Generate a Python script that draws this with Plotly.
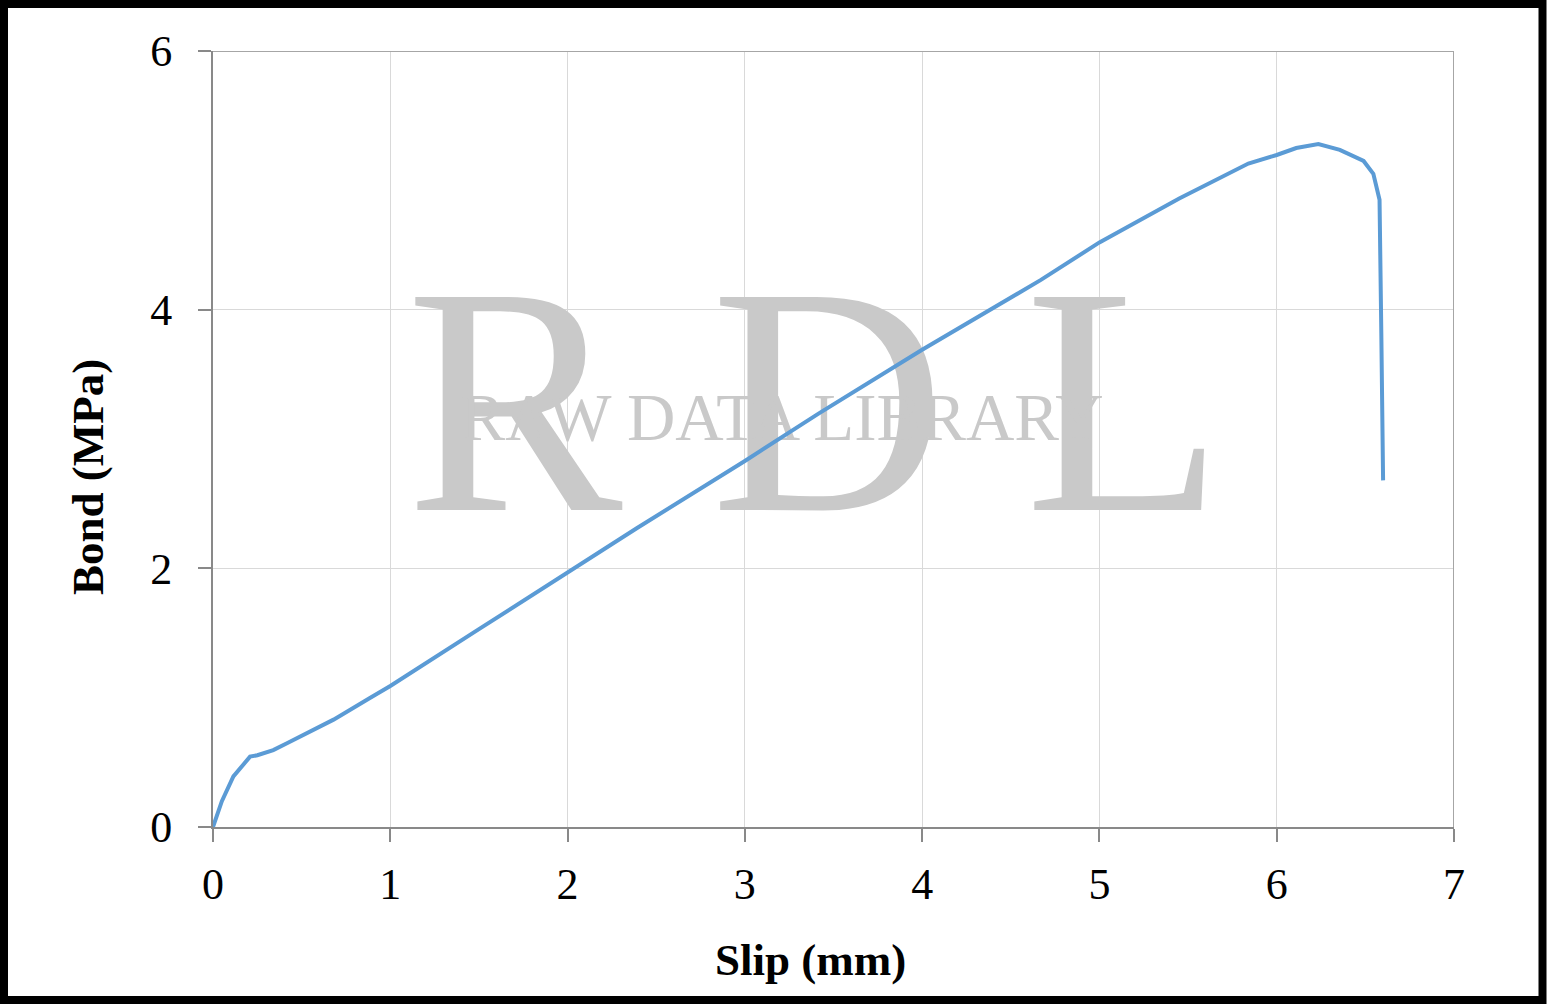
import plotly.graph_objects as go

slip = [0, 0.05, 0.115, 0.16, 0.209, 0.25, 0.284, 0.34, 0.42, 0.49, 0.6, 0.68, 0.885, 1.0,
        1.5, 2.0, 2.39, 3.0, 3.42, 4.0, 4.67, 5.0, 5.45, 5.84, 6.0, 6.11, 6.235,
        6.356, 6.49, 6.545, 6.58, 6.59, 6.6]
bond = [0, 0.2, 0.391, 0.47, 0.544, 0.555, 0.57, 0.595, 0.65, 0.70, 0.78, 0.83, 0.997, 1.09,
        1.53, 1.97, 2.31, 2.83, 3.20, 3.69, 4.23, 4.52, 4.86, 5.13, 5.196, 5.25, 5.28,
        5.235, 5.15, 5.05, 4.85, 3.82, 2.68]

x_ticks = [0, 1, 2, 3, 4, 5, 6, 7]
y_ticks = [0, 2, 4, 6]

W, H = 1547, 1005
L, R, T, B = 213, 93, 51, 178
pw, ph = W - L - R, H - T - B

def px(xp):
    return (xp - L) / pw

def py(yp):
    return (H - B - yp) / ph

SERIF = "Liberation Serif, Times New Roman, serif"
WM = "#c9c9c9"

fig = go.Figure()

# watermark (below the data line)
fig.add_trace(go.Scatter(
    x=[1.70, 3.47, 5.14], y=[3.08, 3.08, 3.08], mode="text",
    text=["R", "D", "L"], textposition="middle center",
    textfont=dict(family=SERIF, size=325, color=WM),
    hoverinfo="skip", showlegend=False))
fig.add_trace(go.Scatter(
    x=[3.21], y=[3.12], mode="text", text=["RAW DATA LIBRARY"],
    textposition="middle center",
    textfont=dict(family=SERIF, size=67, color=WM),
    hoverinfo="skip", showlegend=False))

fig.add_trace(go.Scatter(
    x=slip, y=bond, mode="lines",
    line=dict(color="#5b9bd5", width=4),
    showlegend=False))

axis_common = dict(
    showgrid=True, gridcolor="#d9d9d9", gridwidth=1,
    showline=True, linecolor="#898989", linewidth=2,
    ticks="outside", ticklen=13, tickwidth=2, tickcolor="#898989",
    tickfont=dict(family=SERIF, size=44, color="black"),
    zeroline=False,
)

fig.update_xaxes(range=[0, 7], tickvals=x_ticks, ticklabelstandoff=4, **axis_common)
fig.update_yaxes(range=[0, 6], tickvals=y_ticks, ticklabelstandoff=17, **axis_common)

fig.update_layout(
    width=W, height=H,
    margin=dict(l=L, r=R, t=T, b=B),
    paper_bgcolor="white", plot_bgcolor="white",
    annotations=[
        dict(text="<b>Slip (mm)</b>", xref="paper", yref="paper",
             x=px(810), y=py(960), xanchor="center", yanchor="middle",
             showarrow=False, font=dict(family=SERIF, size=45, color="black")),
        dict(text="<b>Bond (MPa)</b>", xref="paper", yref="paper",
             x=px(88), y=py(477), xanchor="center", yanchor="middle",
             textangle=-90, showarrow=False,
             font=dict(family=SERIF, size=45, color="black")),
    ],
    shapes=[
        dict(type="line", xref="x", yref="y", x0=0, x1=7, y0=6, y1=6,
             line=dict(color="#a6a6a6", width=2)),
        dict(type="line", xref="x", yref="y", x0=7, x1=7, y0=0, y1=6,
             line=dict(color="#a6a6a6", width=2)),
        dict(type="rect", xref="paper", yref="paper",
             x0=px(4), x1=px(1542.5), y0=py(1000), y1=py(4),
             line=dict(color="black", width=8)),
    ],
)

fig.write_html("out.html", config={"displayModeBar": False},
               post_script="document.body.style.margin='0';document.body.style.padding='0';")
